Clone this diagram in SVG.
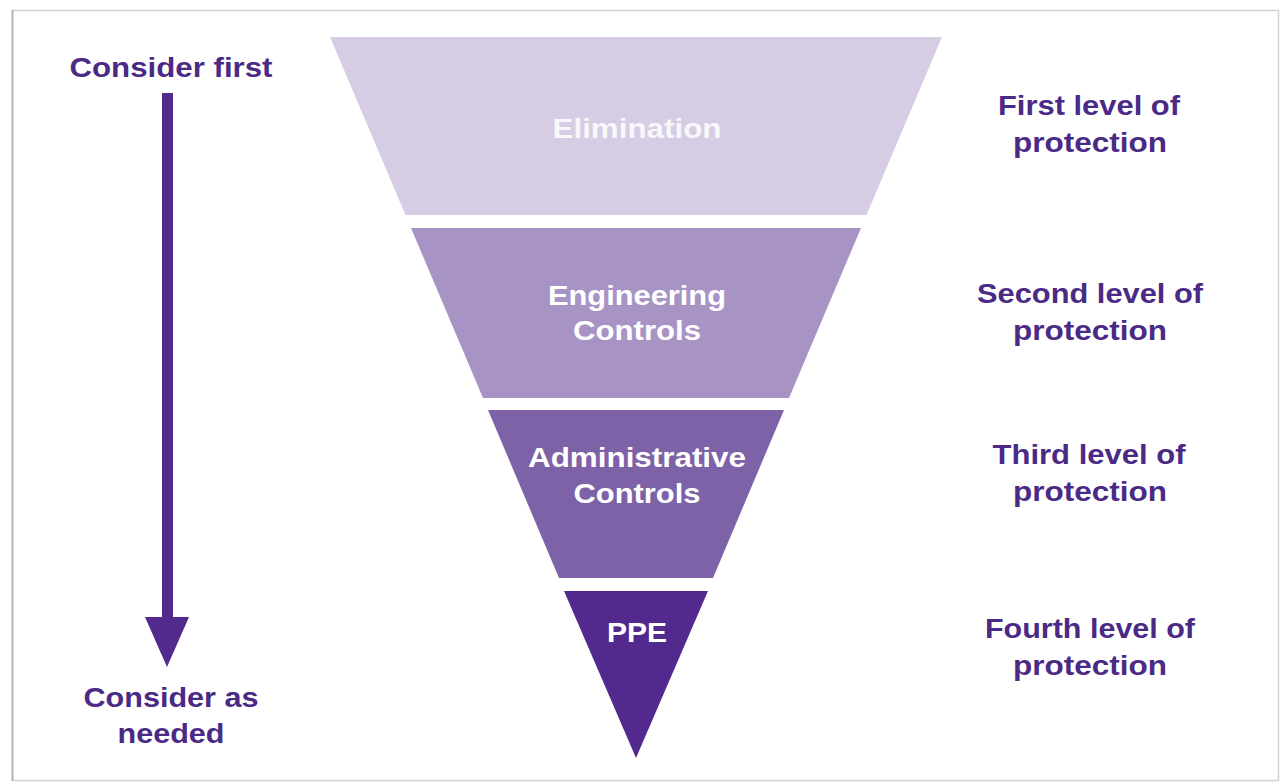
<svg xmlns="http://www.w3.org/2000/svg" width="1281" height="783" viewBox="0 0 1281 783">
  <style>
    .lbl { font-family: "Liberation Sans", Arial, sans-serif; font-weight: bold; fill: #4b2a86; text-anchor: middle; }
    .side { font-size: 28.5px; }
    .inner { font-family: "Liberation Sans", Arial, sans-serif; font-weight: bold; fill: #ffffff; text-anchor: middle; font-size: 28px; }
  </style>
  <rect x="0" y="0" width="1281" height="783" fill="#ffffff"/>
  <rect id="frame" x="12.5" y="10.5" width="1266" height="770" fill="#ffffff" stroke="#d2d2d2" stroke-width="1.5"/>
  <line x1="12.5" y1="10" x2="12.5" y2="781" stroke="#b8b8b8" stroke-width="2"/>

  <g id="connectors">
    <rect x="162" y="93" width="11" height="526" fill="#512a8c"/>
    <polygon points="145,617 189,617 167,667" fill="#512a8c"/>
  </g>

  <g id="consider-first">
    <text class="lbl side" x="171" y="77" textLength="203" lengthAdjust="spacingAndGlyphs">Consider first</text>
  </g>
  <g id="consider-as-needed">
    <text class="lbl side" x="171" y="707" textLength="175" lengthAdjust="spacingAndGlyphs">Consider as</text>
    <text class="lbl side" x="171" y="743" textLength="107" lengthAdjust="spacingAndGlyphs">needed</text>
  </g>

  <g id="elimination">
    <polygon points="330,37 942,37 866.5,215 405.5,215" fill="#d6cde4"/>
    <text class="inner" x="637" y="138" fill-opacity="0.85" textLength="169" lengthAdjust="spacingAndGlyphs">Elimination</text>
  </g>
  <g id="engineering">
    <polygon points="411,228 861,228 789,398 483,398" fill="#a893c5"/>
    <text class="inner" x="637" y="305" textLength="178" lengthAdjust="spacingAndGlyphs">Engineering</text>
    <text class="inner" x="637" y="340" textLength="128" lengthAdjust="spacingAndGlyphs">Controls</text>
  </g>
  <g id="administrative">
    <polygon points="488,410 784,410 713,578 559,578" fill="#7e62a7"/>
    <text class="inner" x="637" y="467" textLength="218" lengthAdjust="spacingAndGlyphs">Administrative</text>
    <text class="inner" x="637" y="503" textLength="127" lengthAdjust="spacingAndGlyphs">Controls</text>
  </g>
  <g id="ppe">
    <polygon points="564,591 708,591 636,758" fill="#52298c"/>
    <text class="inner" x="637" y="642" textLength="60" lengthAdjust="spacingAndGlyphs">PPE</text>
  </g>

  <g id="level-1">
    <text class="lbl side" x="1089" y="115" textLength="182" lengthAdjust="spacingAndGlyphs">First level of</text>
    <text class="lbl side" x="1090" y="152" textLength="154" lengthAdjust="spacingAndGlyphs">protection</text>
  </g>
  <g id="level-2">
    <text class="lbl side" x="1090" y="303" textLength="226" lengthAdjust="spacingAndGlyphs">Second level of</text>
    <text class="lbl side" x="1090" y="340" textLength="154" lengthAdjust="spacingAndGlyphs">protection</text>
  </g>
  <g id="level-3">
    <text class="lbl side" x="1089" y="464" textLength="193" lengthAdjust="spacingAndGlyphs">Third level of</text>
    <text class="lbl side" x="1090" y="501" textLength="154" lengthAdjust="spacingAndGlyphs">protection</text>
  </g>
  <g id="level-4">
    <text class="lbl side" x="1090" y="638" textLength="210" lengthAdjust="spacingAndGlyphs">Fourth level of</text>
    <text class="lbl side" x="1090" y="675" textLength="154" lengthAdjust="spacingAndGlyphs">protection</text>
  </g>
</svg>
